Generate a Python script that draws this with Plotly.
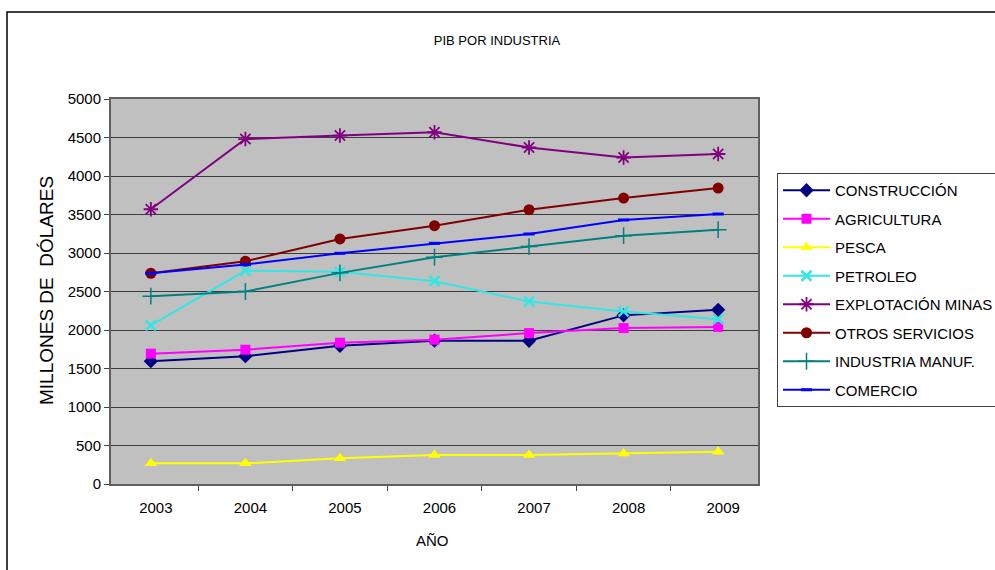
import plotly.graph_objects as go

# Datos (millones de dólares)
ANIOS = ["2003", "2004", "2005", "2006", "2007", "2008", "2009"]

CONSTRUCCION = [1595, 1660, 1795, 1862, 1860, 2190, 2262]
AGRICULTURA = [1693, 1744, 1835, 1874, 1960, 2025, 2040]
PESCA = [268, 268, 333, 376, 376, 397, 419]
PETROLEO = [2060, 2772, 2755, 2634, 2370, 2241, 2140]
EXPLOTACION_MINAS = [3568, 4480, 4525, 4568, 4370, 4240, 4286]
OTROS_SERVICIOS = [2737, 2893, 3183, 3355, 3562, 3713, 3843]
INDUSTRIA_MANUF = [2439, 2500, 2742, 2945, 3083, 3225, 3303]
COMERCIO = [2737, 2850, 2996, 3126, 3247, 3429, 3506]

# nombre, valores, color, símbolo, tamaño, ancho del borde del marcador
SERIES = [
    ("CONSTRUCCIÓN", CONSTRUCCION, "#000080", "diamond", 11, 0),
    ("AGRICULTURA", AGRICULTURA, "#FF00FF", "square", 10, 0),
    ("PESCA", PESCA, "#FFFF00", "triangle-up", 11, 0),
    ("PETROLEO", PETROLEO, "#33E6E6", "x-thin-open", 10, 2.5),
    ("EXPLOTACIÓN MINAS", EXPLOTACION_MINAS, "#800080", "asterisk-open", 12, 1.8),
    ("OTROS SERVICIOS", OTROS_SERVICIOS, "#800000", "circle", 11, 0),
    ("INDUSTRIA MANUF.", INDUSTRIA_MANUF, "#008080", "cross-thin-open", 12, 1.5),
    ("COMERCIO", COMERCIO, "#0000FF", "line-ew-open", 8, 3),
]

FONT = "Liberation Sans, Arial, sans-serif"

fig = go.Figure()
for i, (name, values, color, symbol, size, mlw) in enumerate(SERIES):
    fig.add_trace(go.Scatter(
        x=ANIOS, y=values, name=name, mode="lines+markers",
        legendgroup=f"g{i}",
        line=dict(color=color, width=2),
        marker=dict(symbol=symbol, size=size, color=color,
                    line=dict(color=color, width=mlw)),
    ))

FIG_W, FIG_H = 995, 570
# área de trazado: x 111-758, y 99-484 (px)
L, R, T, B = 111, 758, 99, 484
W, H = R - L, B - T


def px(x):
    return (x - L) / W


def py(y):
    return (B - y) / H


# borde exterior del gráfico
fig.add_shape(
    type="rect", xref="paper", yref="paper",
    x0=px(7), x1=px(1020), y0=py(590), y1=py(12),
    line=dict(color="black", width=1.5), layer="below",
)

# títulos de ejes
fig.add_annotation(
    text="MILLONES DE  DÓLARES", textangle=-90,
    xref="paper", yref="paper", x=px(46), y=py(291),
    showarrow=False, xanchor="center", yanchor="middle",
    font=dict(family=FONT, size=19, color="black"),
)
fig.add_annotation(
    text="AÑO", xref="paper", yref="paper", x=px(432), y=py(540),
    showarrow=False, xanchor="center", yanchor="middle",
    font=dict(family=FONT, size=15, color="black"),
)

fig.update_layout(
    width=FIG_W, height=FIG_H,
    margin=dict(l=L, r=FIG_W - R, t=T, b=FIG_H - B, autoexpand=False),
    paper_bgcolor="white",
    plot_bgcolor="#C0C0C0",
    font=dict(family=FONT, size=15, color="black"),
    title=dict(text="PIB POR INDUSTRIA", xref="container", x=497 / FIG_W,
               xanchor="center", y=1 - 40 / FIG_H, yanchor="middle",
               font=dict(family=FONT, size=13, color="black")),
    showlegend=True,
    legend=dict(
        x=px(777), y=py(173), xanchor="left", yanchor="top",
        bgcolor="white", bordercolor="#404040", borderwidth=1,
        font=dict(family=FONT, size=15, color="black"),
        tracegroupgap=6, itemwidth=47,
    ),
    xaxis=dict(
        type="category", tickson="boundaries",
        ticks="outside", ticklen=5, tickcolor="#404040",
        ticklabelstandoff=9, ticklabelshift=5,
        showline=True, linecolor="#606060", linewidth=2, mirror=True,
        showgrid=False,
        tickfont=dict(family=FONT, size=15),
    ),
    yaxis=dict(
        range=[0, 5000], dtick=500, tick0=0,
        ticks="outside", ticklen=5, tickcolor="#404040",
        showline=True, linecolor="#606060", linewidth=2, mirror=True,
        showgrid=True, gridcolor="#3C3C3C", gridwidth=1,
        zeroline=False,
        tickfont=dict(family=FONT, size=15),
    ),
)

# quitar el margen por defecto del body para que la figura ocupe la ventana
fig.write_html(
    "out.html",
    config={"displayModeBar": False},
    post_script="document.body.style.margin='0';document.body.style.overflow='hidden';",
)
